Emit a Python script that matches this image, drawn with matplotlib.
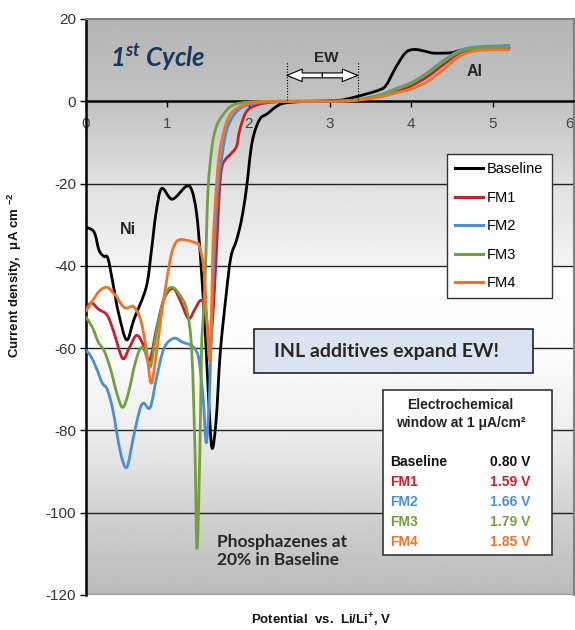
import numpy as np
import matplotlib
matplotlib.use('Agg')
import matplotlib.pyplot as plt
from matplotlib.path import Path
from matplotlib.patches import PathPatch, Rectangle
from matplotlib.lines import Line2D

plt.rcParams['mathtext.default'] = 'regular'

# ---------------- data ----------------
series_names = ['Baseline', 'FM1', 'FM2', 'FM3', 'FM4']

baseline_x = [0.0, 0.1, 0.16, 0.22, 0.27, 0.34, 0.4, 0.5, 0.59, 0.74, 0.8, 0.86, 0.93, 1.06, 1.23, 1.3,
              1.36, 1.41, 1.47, 1.51, 1.55, 1.6, 1.65, 1.72, 1.78, 1.85, 1.91, 1.97, 2.04, 2.13, 2.23,
              2.38, 2.54, 2.8, 3.1, 3.3, 3.6, 3.69, 3.77, 3.85, 3.94, 4.04, 4.16, 4.28, 4.49, 4.59,
              4.8, 5.0, 5.2]
baseline_y = [-30.6, -31.8, -36.2, -37.7, -38.2, -45.2, -51.5, -58.0, -53.0, -45.2, -37.0, -27.3, -21.2,
              -23.8, -20.7, -21.6, -27.3, -38.6, -57.4, -73.4, -84.3, -77.5, -61.3, -47.6, -38.0, -33.8,
              -29.0, -21.6, -10.2, -4.6, -3.0, -0.8, -0.2, 0.0, 0.2, 1.0, 2.7, 3.9, 6.8, 9.6, 12.0,
              12.6, 12.2, 11.7, 11.8, 12.3, 12.8, 13.0, 13.1]

fm1_x = [0.0, 0.07, 0.15, 0.26, 0.34, 0.45, 0.53, 0.62, 0.7, 0.78, 0.87, 0.96, 1.07, 1.16, 1.26, 1.34,
         1.41, 1.47, 1.52, 1.56, 1.6, 1.64, 1.67, 1.72, 1.77, 1.85, 1.89, 1.97, 2.1, 2.3, 2.6, 3.0, 3.3,
         3.6, 3.8, 4.0, 4.2, 4.4, 4.6, 4.8, 5.0, 5.2]
fm1_y = [-50.3, -49.0, -50.5, -52.0, -56.0, -62.5, -60.0, -56.9, -59.0, -63.0, -55.0, -48.0, -45.5,
         -48.5, -52.8, -50.5, -48.4, -50.5, -60.0, -52.0, -38.0, -22.0, -16.0, -14.0, -13.0, -11.0,
         -7.0, -2.6, -0.9, -0.2, 0.0, 0.0, 0.2, 1.2, 2.3, 3.8, 6.0, 9.0, 11.8, 12.6, 12.8, 12.8]

fm2_x = [0.0, 0.06, 0.13, 0.2, 0.26, 0.33, 0.42, 0.5, 0.58, 0.66, 0.71, 0.79, 0.87, 0.96, 1.08, 1.18,
         1.29, 1.35, 1.39, 1.44, 1.48, 1.52, 1.55, 1.58, 1.62, 1.67, 1.73, 1.83, 1.97, 2.2, 2.6, 3.0,
         3.3, 3.6, 3.8, 4.0, 4.2, 4.4, 4.6, 4.8, 5.0, 5.2]
fm2_y = [-60.5, -62.0, -65.0, -68.5, -70.0, -75.0, -85.0, -89.0, -82.0, -75.0, -73.4, -74.4, -67.0,
         -60.0, -57.6, -58.5, -59.3, -60.5, -63.0, -72.0, -83.0, -70.0, -50.0, -36.0, -21.6, -13.6,
         -7.0, -3.0, -1.0, -0.2, 0.0, 0.0, 0.3, 1.5, 3.0, 4.5, 7.0, 10.0, 12.4, 13.2, 13.4, 13.6]

fm3_x = [0.0, 0.08, 0.15, 0.22, 0.3, 0.38, 0.45, 0.52, 0.6, 0.67, 0.73, 0.79, 0.85, 0.93, 1.0, 1.07,
         1.15, 1.24, 1.3, 1.34, 1.365, 1.4, 1.42, 1.44, 1.47, 1.5, 1.55, 1.6, 1.68, 1.8, 2.0, 2.4, 3.0,
         3.3, 3.6, 3.8, 4.0, 4.2, 4.4, 4.6, 4.8, 5.0, 5.2]
fm3_y = [-52.5, -55.0, -58.5, -60.5, -65.0, -71.0, -74.4, -71.0, -64.0, -60.0, -61.0, -64.6, -58.0,
         -50.0, -46.0, -45.3, -47.0, -50.8, -60.5, -85.0, -108.7, -85.0, -60.5, -53.0, -40.0, -21.6,
         -11.0, -6.3, -3.4, -1.0, -0.2, 0.0, 0.0, 0.3, 1.4, 2.8, 4.4, 6.8, 9.7, 12.1, 12.9, 13.1, 13.2]

fm4_x = [0.0, 0.08, 0.17, 0.26, 0.33, 0.38, 0.44, 0.49, 0.54, 0.59, 0.67, 0.74, 0.8, 0.86, 0.92, 0.96,
         1.04, 1.1, 1.16, 1.24, 1.29, 1.35, 1.39, 1.45, 1.49, 1.52, 1.54, 1.56, 1.6, 1.64, 1.71, 1.8,
         2.0, 2.3, 3.0, 3.3, 3.6, 3.8, 4.0, 4.2, 4.4, 4.6, 4.8, 5.0, 5.2]
fm4_y = [-51.0, -48.5, -46.0, -45.2, -46.5, -47.6, -49.5, -50.3, -50.0, -50.0, -53.0, -60.0, -68.5,
         -62.0, -53.0, -47.6, -38.0, -34.5, -33.6, -33.8, -34.0, -34.5, -35.0, -41.0, -55.0, -63.0,
         -55.0, -36.0, -21.6, -12.7, -6.3, -2.6, -0.5, 0.0, 0.0, 0.2, 1.0, 2.0, 3.0, 4.8, 7.8, 11.0,
         12.3, 12.5, 12.5]

ew_table_names = ['Baseline', 'FM1', 'FM2', 'FM3', 'FM4']
ew_table_values = ['0.80 V', '1.59 V', '1.66 V', '1.79 V', '1.85 V']
ew_start, ew_end = 2.47, 3.34

x_ticks = [0, 1, 2, 3, 4, 5, 6]
y_ticks = [20, 0, -20, -40, -60, -80, -100, -120]

# ---------------- style ----------------
colors = ['#000000', '#c8202a', '#4a8fd6', '#72a03a', '#f07428']
W, H = 575, 630
AX_L, AX_R, AX_T, AX_B = 86, 574, 19, 595
ARIAL = 'Liberation Sans'
CALIBRI = 'Lato'


def axc(px, py):
    return ((px - AX_L) / (AX_R - AX_L), (AX_B - py) / (AX_B - AX_T))


def smooth_path(xs, ys):
    P = np.column_stack([xs, ys]).astype(float)
    n = len(P)
    verts = [P[0]]
    codes = [Path.MOVETO]
    for i in range(n - 1):
        p0 = P[i - 1] if i > 0 else P[i]
        p1 = P[i]
        p2 = P[i + 1]
        p3 = P[i + 2] if i + 2 < n else P[i + 1]
        c1 = p1 + (p2 - p0) / 6.0
        c2 = p2 - (p3 - p1) / 6.0
        verts += [c1, c2, p2]
        codes += [Path.CURVE4] * 3
    return Path(verts, codes)


fig = plt.figure(figsize=(W / 100, H / 100), dpi=100)
ax = fig.add_axes([AX_L / W, 1 - AX_B / H, (AX_R - AX_L) / W, (AX_B - AX_T) / H])
ax.set_xlim(0, 6)
ax.set_ylim(-120, 20)

# background gradient
gy = np.linspace(20, -120, 400)
gv = np.interp(-gy, [-20, 0, 20, 39.9, 40.1, 60, 80, 100, 120],
               [0.71, 0.76, 0.88, 0.95, 1.0, 0.99, 0.93, 0.82, 0.73])
ax.imshow(gv[:, None], cmap='gray', vmin=0, vmax=1, extent=[0, 6, -120, 20],
          aspect='auto', zorder=0, interpolation='bilinear')

for yv in y_ticks:
    if yv not in (0, 20, -120):
        ax.axhline(yv, color='#222222', lw=1.0, zorder=1)
ax.axhline(-120, color='#999999', lw=2.5, zorder=1)

all_x = [baseline_x, fm1_x, fm2_x, fm3_x, fm4_x]
all_y = [baseline_y, fm1_y, fm2_y, fm3_y, fm4_y]
for i in [0, 1, 2, 3, 4]:
    pp = PathPatch(smooth_path(all_x[i], all_y[i]), fill=False, edgecolor=colors[i],
                   lw=2.0, transform=ax.transData, zorder=3, joinstyle='round', capstyle='round')
    ax.add_patch(pp)

# axes styling
ax.spines['bottom'].set_position(('data', 0))
ax.spines['bottom'].set_color('black')
ax.spines['bottom'].set_linewidth(1.8)
ax.spines['left'].set_color('black')
ax.spines['left'].set_linewidth(1.8)
for s in ['top', 'right']:
    ax.spines[s].set_color('#808080')
    ax.spines[s].set_linewidth(1.5)
ax.set_xticks(x_ticks)
ax.set_yticks(y_ticks)
ax.set_xticklabels([str(v) for v in x_ticks])
ax.set_yticklabels([str(v) for v in y_ticks])
ax.tick_params(axis='y', direction='out', length=4, width=1, pad=3, labelsize=11,
               labelcolor='#333333')
ax.tick_params(axis='x', direction='out', length=4, width=1, pad=7, labelsize=11,
               labelcolor='#444444')
for lab in ax.get_xticklabels() + ax.get_yticklabels():
    lab.set_fontfamily(ARIAL)
ax.get_xticklabels()[-1].set_horizontalalignment('right')

fig.text(15 / W, 1 - 275 / H, 'Current density,  μA cm $^{-2}$', rotation=90,
         ha='center', va='center', fontsize=9.5, fontweight='bold', family=ARIAL, color='#111111')
fig.text(321 / W, 1 - 620 / H, 'Potential  vs.  Li/Li$^{+}$, V', ha='center', va='center',
         fontsize=9.5, fontweight='bold', family=ARIAL, color='#111111')

# legend
handles = [Line2D([], [], color=c, lw=2.2) for c in colors]
leg = ax.legend(handles, series_names, loc='upper left', bbox_to_anchor=axc(447, 154),
                frameon=True, fancybox=False, edgecolor='#333333', framealpha=1,
                prop={'family': ARIAL, 'size': 10.5}, handlelength=1.9, handletextpad=0.3,
                labelspacing=1.0, borderpad=0.55, borderaxespad=0)
leg.get_frame().set_linewidth(1.0)
leg.set_zorder(6)

# annotations
ax.text(*axc(110, 57), '1$^{st}$ Cycle', transform=ax.transAxes, ha='left', va='center',
        fontsize=18.5, fontweight='bold', fontstyle='italic', family=CALIBRI, color='#17375e', zorder=5)
ax.text(*axc(326, 58), 'EW', transform=ax.transAxes, ha='center', va='center', fontsize=11,
        fontweight='bold', family=ARIAL, color='#262626', zorder=5)
ax.text(*axc(475, 71), 'Al', transform=ax.transAxes, ha='center', va='center', fontsize=11.5,
        fontweight='bold', family=ARIAL, color='#262626', zorder=5)
ax.text(*axc(128, 229), 'Ni', transform=ax.transAxes, ha='center', va='center', fontsize=11.5,
        fontweight='bold', family=ARIAL, color='#262626', zorder=5)

ew_mid = (ew_start + ew_end) / 2
for a, b in [(ew_start, ew_mid), (ew_end, ew_mid)]:
    ax.annotate('', xy=(a, 6.3), xytext=(b, 6.3),
                arrowprops=dict(arrowstyle='simple,head_length=1.1,head_width=0.9,tail_width=0.35',
                                fc='white', ec='black', lw=0.8, shrinkA=0, shrinkB=0,
                                mutation_scale=10), zorder=5)
for xv in (ew_start, ew_end):
    ax.plot([xv, xv], [0.2, 9.8], color='black', lw=0.8, ls=(0, (1, 1.5)), zorder=4)

# INL box
x0, y0 = axc(254, 373)
x1, y1 = axc(533, 329)
ax.add_patch(Rectangle((x0, y0), x1 - x0, y1 - y0, transform=ax.transAxes, fc='#dce3f0',
                       ec='#222222', lw=1.2, zorder=5))
ax.text(*axc(387, 351), 'INL additives expand EW!', transform=ax.transAxes, ha='center',
        va='center', fontsize=14, fontweight='bold', family=CALIBRI, color='#262626', zorder=6)

# EC window box
x0, y0 = axc(383, 555)
x1, y1 = axc(552, 390)
ax.add_patch(Rectangle((x0, y0), x1 - x0, y1 - y0, transform=ax.transAxes, fc='white',
                       ec='#333333', lw=1.2, zorder=5))
ax.text(*axc(460, 405), 'Electrochemical', transform=ax.transAxes, ha='center', va='center',
        fontsize=10, fontweight='bold', family=ARIAL, color='#222222', zorder=6)
ax.text(*axc(461, 423), 'window at 1 μA/cm²', transform=ax.transAxes, ha='center', va='center',
        fontsize=10, fontweight='bold', family=ARIAL, color='#222222', zorder=6)
row_py = [462, 482, 502, 522, 542]
for name, val, c, py in zip(ew_table_names, ew_table_values, colors, row_py):
    cc = '#111111' if c == '#000000' else c
    ax.text(*axc(390, py), name, transform=ax.transAxes, ha='left', va='center', fontsize=10,
            fontweight='bold', family=ARIAL, color=cc, zorder=6)
    ax.text(*axc(530, py), val, transform=ax.transAxes, ha='right', va='center', fontsize=10,
            fontweight='bold', family=ARIAL, color=cc, zorder=6)

ax.text(*axc(217, 551), 'Phosphazenes at\n20% in Baseline', transform=ax.transAxes, ha='left',
        va='center', fontsize=12.5, fontweight='bold', family=CALIBRI, color='#262626',
        linespacing=1.2, zorder=5)

fig.savefig('out.png', dpi=100)
